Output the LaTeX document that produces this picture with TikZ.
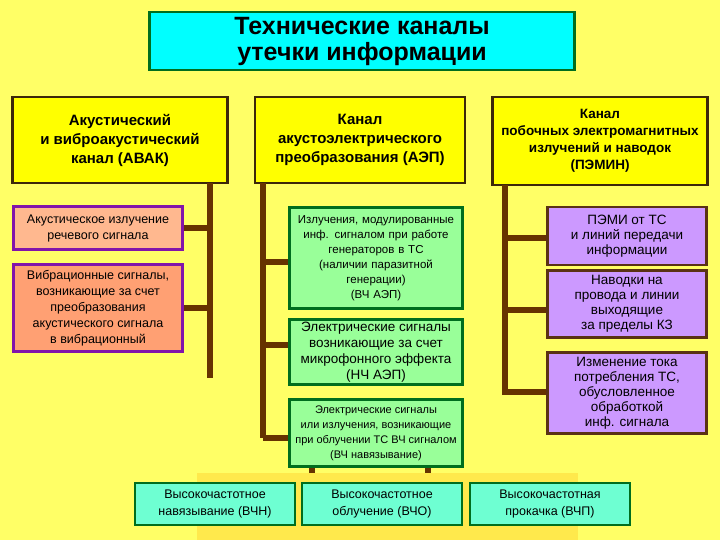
\documentclass[tikz,border=0pt]{standalone}
\usepackage{fontspec}
\setmainfont{Liberation Sans}
\begin{document}
\begin{tikzpicture}[x=1pt,y=-1pt,
  bx/.style={draw,line width=2.5pt,align=center,inner sep=1pt},
  head/.style={bx,fill=hy,draw=hb,font=\bfseries\fontsize{15}{19}\selectfont},
  lbox/.style={bx,draw=lb,font=\fontsize{12.5}{16}\selectfont},
  gbox/.style={bx,fill=gf,draw=gb,font=\fontsize{11.5}{15}\selectfont},
  pbox/.style={bx,fill=pf,draw=pb,font=\fontsize{13.5}{15}\selectfont},
  cbox/.style={bx,fill=cf,draw=gb,font=\fontsize{12.5}{17}\selectfont},
  trunk/.style={draw=tr,line width=6pt}]
\definecolor{bg}{RGB}{255,255,102}
\definecolor{hy}{RGB}{255,255,0}
\definecolor{hb}{RGB}{60,40,10}
\definecolor{lb}{RGB}{130,20,170}
\definecolor{gf}{RGB}{153,255,153}
\definecolor{gb}{RGB}{0,110,30}
\definecolor{pf}{RGB}{204,153,255}
\definecolor{pb}{RGB}{90,50,20}
\definecolor{cf}{RGB}{110,255,210}
\definecolor{tr}{RGB}{102,51,0}
\definecolor{tf}{RGB}{0,255,255}
\fill[bg] (0,0) rectangle (720,540);
\useasboundingbox (0,0) rectangle (720,540);
\fill[orange!25!yellow!70] (197,473) rectangle (578,540);
\node[bx,fill=tf,draw=gb,minimum width=425,minimum height=58,font=\bfseries\fontsize{25}{26}\selectfont] (t) at (362,41) {Технические каналы\\утечки информации};
\node[head,minimum width=215,minimum height=86] (h1) at (120,140) {Акустический\\и виброакустический\\канал (АВАК)};
\node[head,minimum width=210,minimum height=86] (h2) at (360,140) {Канал\\акустоэлектрического\\преобразования (АЭП)};
\node[head,minimum width=215,minimum height=88,font=\bfseries\fontsize{13.5}{17}\selectfont] (h3) at (600,141) {Канал\\побочных электромагнитных\\излучений и наводок\\(ПЭМИН)};
% left
\node[lbox,fill=orange!40!pink!80,minimum width=169,minimum height=43] (l1) at (98,228) {Акустическое излучение\\речевого сигнала};
\node[lbox,fill=orange!65!red!55,minimum width=169,minimum height=87] (l2) at (98,308) {Вибрационные сигналы,\\возникающие за счет\\преобразования\\акустического сигнала\\в вибрационный};
\coordinate (a1) at (210,183); \coordinate (a2) at (210,378);
\draw[trunk] (a1) -- (a2);
\draw[trunk] (a2|-l1.east) -- (l1.east);
\draw[trunk] (a2|-l2.east) -- (l2.east);
% middle
\node[gbox,minimum width=173,minimum height=101,text width=168] (m1) at (376,258) {Излучения, модулированные\\инф. сигналом при работе\\генераторов в ТС\\(наличии паразитной\\генерации)\\(ВЧ АЭП)};
\node[gbox,minimum width=173,minimum height=65,font=\fontsize{13.5}{16}\selectfont] (m2) at (376,352) {Электрические сигналы\\возникающие за счет\\микрофонного эффекта\\(НЧ АЭП)};
\node[gbox,minimum width=173,minimum height=67,font=\fontsize{11}{15}\selectfont] (m3) at (376,433) {Электрические сигналы\\или излучения, возникающие\\при облучении ТС ВЧ сигналом\\(ВЧ навязывание)};
\coordinate (b1) at (263,183); \coordinate (b2) at (263,438);
\coordinate (s1) at (312,473); \coordinate (s2) at (428,473);
\draw[trunk] (b1) -- (b2);
\draw[trunk] (263,262) -- (m1.west|-0,262);
\draw[trunk] (263,345) -- (m2.west|-0,345);
\draw[trunk] (b2) -- (m3.west|-b2);
\draw[trunk] (m3.south-|s1) -- (s1);
\draw[trunk] (m3.south-|s2) -- (s2);
% right
\node[pbox,minimum width=159,minimum height=58] (r1) at (627,236) {ПЭМИ от ТС\\и линий передачи\\информации};
\node[pbox,minimum width=159,minimum height=67] (r2) at (627,304) {Наводки на\\провода и линии\\выходящие\\за пределы КЗ};
\node[pbox,minimum width=159,minimum height=81] (r3) at (627,393) {Изменение тока\\потребления ТС,\\обусловленное\\обработкой\\инф. сигнала};
\coordinate (c1) at (505,185); \coordinate (c2) at (505,395);
\draw[trunk] (c1) -- (c2);
\draw[trunk] (505,238) -- (r1.west|-0,238);
\draw[trunk] (505,310) -- (r2.west|-0,310);
\draw[trunk] (505,392) -- (r3.west|-0,392);
% bottom
\node[cbox,minimum width=160,minimum height=42] (d1) at (215,504) {Высокочастотное\\навязывание (ВЧН)};
\node[cbox,minimum width=160,minimum height=42] (d2) at (382,504) {Высокочастотное\\облучение (ВЧО)};
\node[cbox,minimum width=160,minimum height=42] (d3) at (550,504) {Высокочастотная\\прокачка (ВЧП)};
\end{tikzpicture}
\end{document}
